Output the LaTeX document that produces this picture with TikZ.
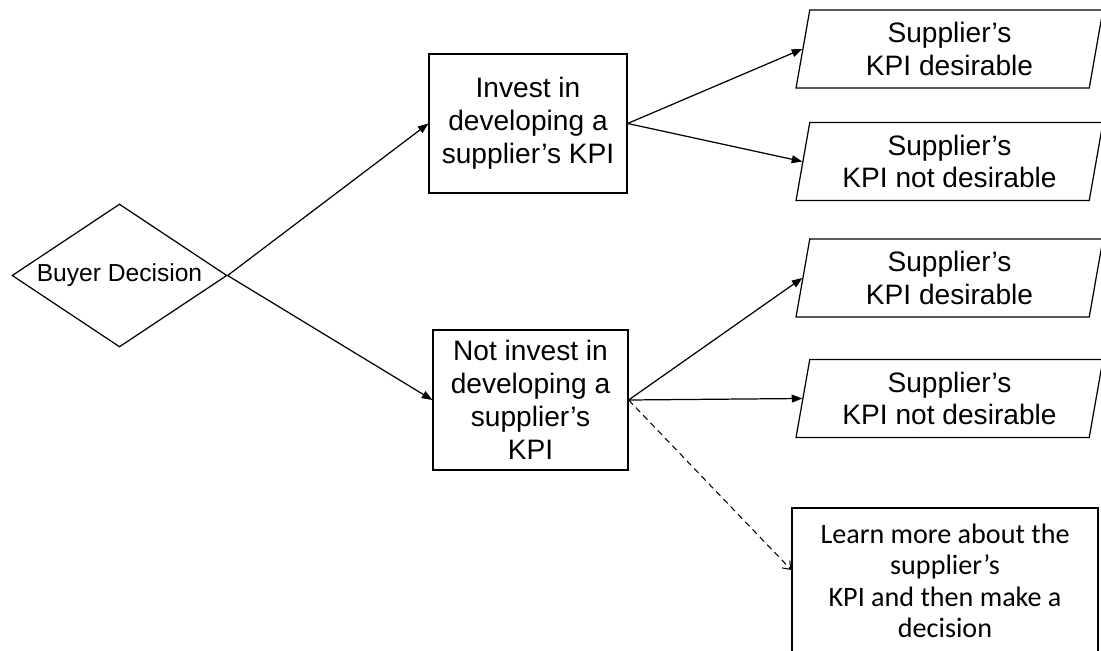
\documentclass[tikz,border=0pt]{standalone}
\usepackage{fontspec}
\setmainfont{Liberation Sans}
\newfontfamily\carl{Carlito}
\usetikzlibrary{shapes.geometric,arrows.meta}
\tikzset{
  base/.style={draw, line width=0.7pt, align=center, inner sep=0pt,
    font=\fontsize{16}{18.7}\selectfont},
  rectbox/.style={base, rectangle},
  para/.style={base, trapezium, trapezium left angle=75.6, trapezium right angle=104.4,
    trapezium stretches body, minimum width=6.14cm, minimum height=1.56cm},
  arr/.style={line width=0.7pt, -{Triangle[length=6pt,width=4.5pt]}},
  darr/.style={line width=0.6pt, dash pattern=on 3.5pt off 2.5pt, -{Straight Barb[length=4pt,width=6pt]}}
}
\begin{document}
\begin{tikzpicture}[x=0.02cm, y=-0.02cm]
\useasboundingbox (0,0) rectangle (1101,651);
\clip (0,0) rectangle (1101,651);
\fill[white] (0,0) rectangle (1101,651);
\node[diamond, draw, line width=0.7pt, inner sep=0pt, aspect=1.5,
  minimum width=4.3cm, minimum height=2.86cm,
  font=\fontsize{14}{16}\selectfont] (bd) at (119.5,275.5) {Buyer Decision};
\node[rectbox, minimum width=3.96cm, minimum height=2.78cm] (inv) at (528,123.5)
  {Invest in\\developing a\\supplier’s KPI};
\node[rectbox, minimum width=3.9cm, minimum height=2.8cm] (ninv) at (530.5,400)
  {Not invest in\\developing a\\supplier’s\\KPI};
\node[para] (p1) at (949.5,49) {Supplier’s\\KPI desirable};
\node[para] (p2) at (949.5,161.5) {Supplier’s\\KPI not desirable};
\node[para] (p3) at (949.5,278) {Supplier’s\\KPI desirable};
\node[para] (p4) at (949.5,398.5) {Supplier’s\\KPI not desirable};
\node[rectbox, minimum width=6.12cm, minimum height=2.92cm,
  font=\carl\fontsize{16}{17.9}\selectfont] (learn) at (945,581)
  {Learn more about the\\supplier’s\\KPI and then make a\\decision};
\draw[arr] (bd.east) -- (inv.west);
\draw[arr] (bd.east) -- (ninv.west);
\draw[arr] (inv.east) -- (p1.west);
\draw[arr] (inv.east) -- (p2.west);
\draw[arr] (ninv.east) -- (p3.west);
\draw[arr] (ninv.east) -- (p4.west);
\draw[darr] (ninv.east) -- ([yshift=0.22cm]learn.west);
\end{tikzpicture}
\end{document}
